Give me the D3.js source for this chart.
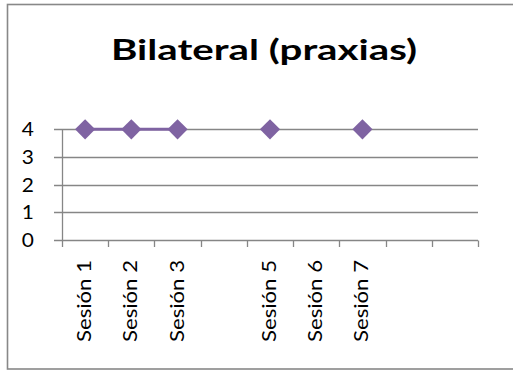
<!DOCTYPE html>
<html>
<head>
<meta charset="utf-8">
<script src="https://cdn.jsdelivr.net/npm/d3@7/dist/d3.min.js"></script>
<style>
  html, body { margin: 0; padding: 0; background: #fff; }
  svg { display: block; }
  text { font-family: Lato, "Open Sans", sans-serif; fill: #000; }
</style>
</head>
<body>
<svg id="chart" width="513" height="370"></svg>
<script>
// Chart content
const title = "Bilateral (praxias)";
const categories = ["Sesión 1", "Sesión 2", "Sesión 3", "", "Sesión 5", "Sesión 6", "Sesión 7", "", ""];
const values = [4, 4, 4, null, 4, null, 4, null, null];
const yTicks = [0, 1, 2, 3, 4];

const svg = d3.select("#chart");
const purple = "#7F63A2";
const gridColor = "#868686";

// Outer frame (right side runs past the edge)
svg.append("rect")
  .attr("x", 7.5).attr("y", 4.5)
  .attr("width", 520).attr("height", 364.5)
  .attr("fill", "#fff")
  .attr("stroke", "#888").attr("stroke-width", 1.6);

// Title
svg.append("text")
  .attr("x", 264).attr("y", 60)
  .attr("text-anchor", "middle")
  .attr("font-weight", "bold")
  .attr("font-size", 29)
  .attr("textLength", 306)
  .attr("lengthAdjust", "spacingAndGlyphs")
  .text(title);

// Scales
const x = d3.scaleBand()
  .domain(d3.range(categories.length))
  .range([62, 478])
  .padding(0);

const y = d3.scaleLinear()
  .domain([0, 4])
  .range([240, 129.3]);

// Horizontal gridlines (with left tick stubs)
svg.append("g")
  .selectAll("line")
  .data(yTicks)
  .join("line")
  .attr("x1", 54).attr("x2", 478)
  .attr("y1", d => Math.round(y(d)) + 0.5)
  .attr("y2", d => Math.round(y(d)) + 0.5)
  .attr("stroke", gridColor).attr("stroke-width", 1.3);

// Y axis line
svg.append("line")
  .attr("x1", 62.5).attr("x2", 62.5)
  .attr("y1", Math.round(y(4)) + 0.5).attr("y2", Math.round(y(0)) + 0.5)
  .attr("stroke", gridColor).attr("stroke-width", 1.3);

// Y tick labels
svg.append("g")
  .selectAll("text")
  .data(yTicks)
  .join("text")
  .attr("x", 34)
  .attr("y", d => y(d) + 7)
  .attr("text-anchor", "end")
  .attr("font-size", 19)
  .attr("transform", d => `translate(34,0) scale(1.1,1) translate(-34,0)`)
  .text(d => d);

// X tick marks at category boundaries
const bounds = d3.range(categories.length + 1).map(i => i < categories.length ? x(i) : x.range()[1]);
svg.append("g")
  .selectAll("line")
  .data(bounds)
  .join("line")
  .attr("x1", d => Math.round(d) + 0.5).attr("x2", d => Math.round(d) + 0.5)
  .attr("y1", Math.round(y(0)) + 0.5).attr("y2", Math.round(y(0)) + 7)
  .attr("stroke", gridColor).attr("stroke-width", 1.3);

// Rotated category labels
svg.append("g")
  .selectAll("text")
  .data(categories.map((c, i) => ({ c, i })).filter(d => d.c !== ""))
  .join("text")
  .attr("transform", d => `translate(${x(d.i) + x.bandwidth() / 2 + 6},260) rotate(-90)`)
  .attr("text-anchor", "end")
  .attr("font-size", 19)
  .attr("textLength", 82)
  .attr("lengthAdjust", "spacingAndGlyphs")
  .text(d => d.c);

// Series line (gaps where there is no value)
const pts = values.map((v, i) => ({ i, v }));
svg.append("path")
  .datum(pts)
  .attr("fill", "none")
  .attr("stroke", purple)
  .attr("stroke-width", 3)
  .attr("d", d3.line()
    .defined(d => d.v != null)
    .x(d => x(d.i) + x.bandwidth() / 2)
    .y(d => y(d.v)));

// Diamond markers
const sym = d3.symbol().type(d3.symbolDiamond2).size(260);
svg.append("g")
  .selectAll("path")
  .data(pts.filter(d => d.v != null))
  .join("path")
  .attr("transform", d => `translate(${x(d.i) + x.bandwidth() / 2},${y(d.v)})`)
  .attr("d", sym)
  .attr("fill", purple);
</script>
</body>
</html>
